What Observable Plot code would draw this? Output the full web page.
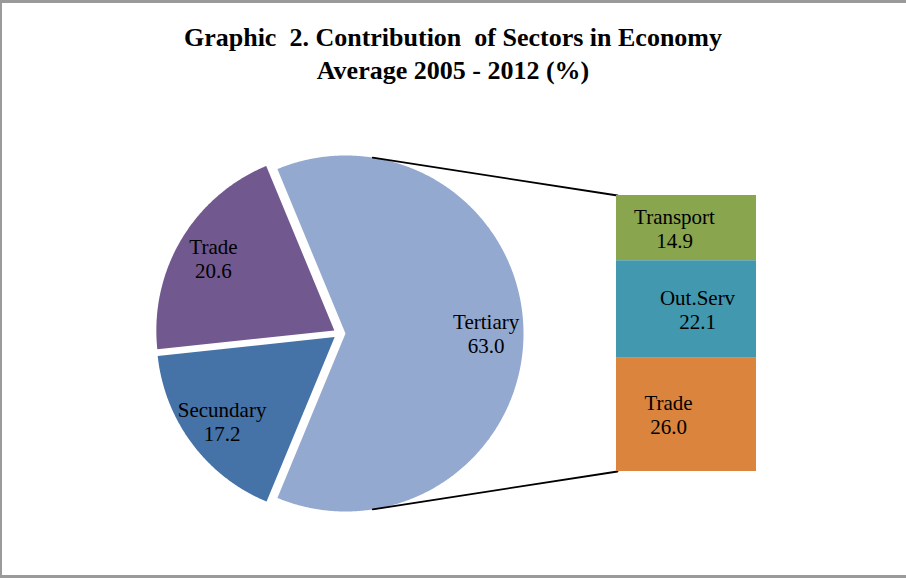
<!DOCTYPE html>
<html><head><meta charset="utf-8">
<script src="https://cdn.jsdelivr.net/npm/d3@7"></script>
<script src="https://cdn.jsdelivr.net/npm/@observablehq/plot@0.6"></script>
<style>
html,body{margin:0;padding:0;background:#fff;}
#frame{position:relative;width:906px;height:578px;overflow:hidden;background:#fff;font-family:"Liberation Serif","Times New Roman",serif;}
#border{position:absolute;left:0;top:0;width:906px;height:578px;box-sizing:border-box;border-top:3px solid #9a9a9a;border-left:2px solid #9a9a9a;border-bottom:3px solid #9a9a9a;pointer-events:none;}
.title{position:absolute;left:0;width:906px;text-align:center;font-weight:bold;font-size:26px;white-space:pre;color:#000;line-height:1;}
#t1{top:25px;}
#t2{top:58px;}
#pie{position:absolute;left:0;top:100px;}
#bar{position:absolute;left:616px;top:195px;}
</style></head>
<body>
<div id="frame">
 <div class="title" id="t1">Graphic  2. Contribution  of Sectors in Economy</div>
 <div class="title" id="t2">Average 2005 - 2012 (%)</div>
 <div id="pie"></div><div id="bar"></div>
 <div id="border"></div>
</div>
<script>
// ---- data ----
const pieLabels = ["Tertiary", "Secundary", "Trade"];
const pieValues = [63.0, 17.2, 20.6];
const pieColors = ["#93A9CF", "#4572A7", "#71588F"];

const barLabels = ["Transport", "Out.Serv", "Trade"];
const barValues = [14.9, 22.1, 26.0];
const barColors = ["#89A54E", "#4198AF", "#DB843D"];
const barGroup = "Tertiary";

// ---- layout (page pixels) ----
const W = 906, pieTop = 100, pieH = 478;
const cxPage = 339, cyPage = 333, R = 178, explodePx = 6;
const barLeft = 616, barTop = 195, barW = 140, barH = 276;
const barLabelDx = [-12, 11, -18];
const labelFont = "21px";
const serif = "Liberation Serif, Times New Roman, serif";

// ---- pie geometry in unit-radius coordinates (y up) ----
const cy = cyPage - pieTop;
const total = d3.sum(pieValues);
const start = Math.PI / 2 - Math.PI * pieValues[0] / total; // other-slice faces the bar
const arcs = d3.pie().sort(null).startAngle(start).endAngle(start + 2 * Math.PI)(pieValues);
const e = explodePx / R;
const slices = arcs.map((a, i) => {
  const m = (a.startAngle + a.endAngle) / 2;
  const ox = e * Math.sin(m), oy = e * Math.cos(m);
  const n = Math.max(2, Math.ceil((a.endAngle - a.startAngle) / (Math.PI / 360)));
  const pts = [{x: ox, y: oy}];
  for (let k = 0; k <= n; k++) {
    const t = a.startAngle + (a.endAngle - a.startAngle) * k / n;
    pts.push({x: ox + Math.sin(t), y: oy + Math.cos(t)});
  }
  pts.push({x: ox, y: oy});
  return {
    label: pieLabels[i], value: pieValues[i], color: pieColors[i], pts, ox, oy,
    lx: ox + 0.79 * Math.sin(m), ly: oy + 0.79 * Math.cos(m)
  };
});

// connector lines: tangents from bar corners to the "Tertiary" circle
const other = slices[0];
const toUnit = (px, py) => ({x: (px - cxPage) / R, y: (cyPage - py) / R});
function tangent(P, upper) {
  const vx = P.x - other.ox, vy = P.y - other.oy;
  const d = Math.hypot(vx, vy), b = Math.atan2(vy, vx), al = Math.acos(1 / d);
  const g = upper ? b + al : b - al;
  return {x: other.ox + Math.cos(g), y: other.oy + Math.sin(g)};
}
const cTop = toUnit(barLeft + 1, barTop), cBot = toUnit(barLeft + 1, barTop + barH);
const connectors = [
  [tangent(cTop, true), cTop],
  [tangent(cBot, false), cBot]
];

const pie = Plot.plot({
  width: W, height: pieH,
  margin: 0, marginTop: 0, marginRight: 0, marginBottom: 0, marginLeft: 0,
  x: {axis: null, domain: [-cxPage / R, (W - cxPage) / R], range: [0, W]},
  y: {axis: null, domain: [cy / R, (cy - pieH) / R], range: [0, pieH]},
  style: {background: "transparent", overflow: "visible"},
  marks: [
    ...slices.map(s => Plot.line(s.pts, {x: "x", y: "y", fill: s.color, stroke: "none", curve: "linear"})),
    ...connectors.map(c => Plot.line(c, {x: "x", y: "y", stroke: "#000", strokeWidth: 1.8})),
    Plot.text(slices, {
      x: "lx", y: "ly", text: d => `${d.label}\n${d.value.toFixed(1)}`,
      fontSize: labelFont, fontFamily: serif, lineHeight: 1.15, fill: "#000"
    })
  ]
});
document.getElementById("pie").appendChild(pie);

// ---- stacked bar of the "Tertiary" breakdown ----
const barData = barLabels.map((l, i) => ({name: l, value: barValues[i], color: barColors[i], group: barGroup}));
const bar = Plot.plot({
  width: barW, height: barH,
  margin: 0, marginTop: 0, marginRight: 0, marginBottom: 0, marginLeft: 0,
  x: {axis: null, domain: [barGroup], padding: 0},
  y: {axis: null, domain: [0, d3.sum(barValues)], range: [barH, 0]},
  color: {type: "identity"},
  style: {background: "transparent", overflow: "visible"},
  marks: [
    Plot.barY(barData, {x: "group", y: "value", fill: "color", reverse: true, inset: 0}),
    ...barLabels.map((_, i) => Plot.text(barData, Plot.stackY({
      x: "group", y: "value", reverse: true,
      text: (d, j) => j === i ? `${d.name}\n${d.value.toFixed(1)}` : null,
      dx: barLabelDx[i], fontSize: labelFont, fontFamily: serif, lineHeight: 1.15, fill: "#000"
    })))
  ]
});
document.getElementById("bar").appendChild(bar);
</script>
</body></html>
